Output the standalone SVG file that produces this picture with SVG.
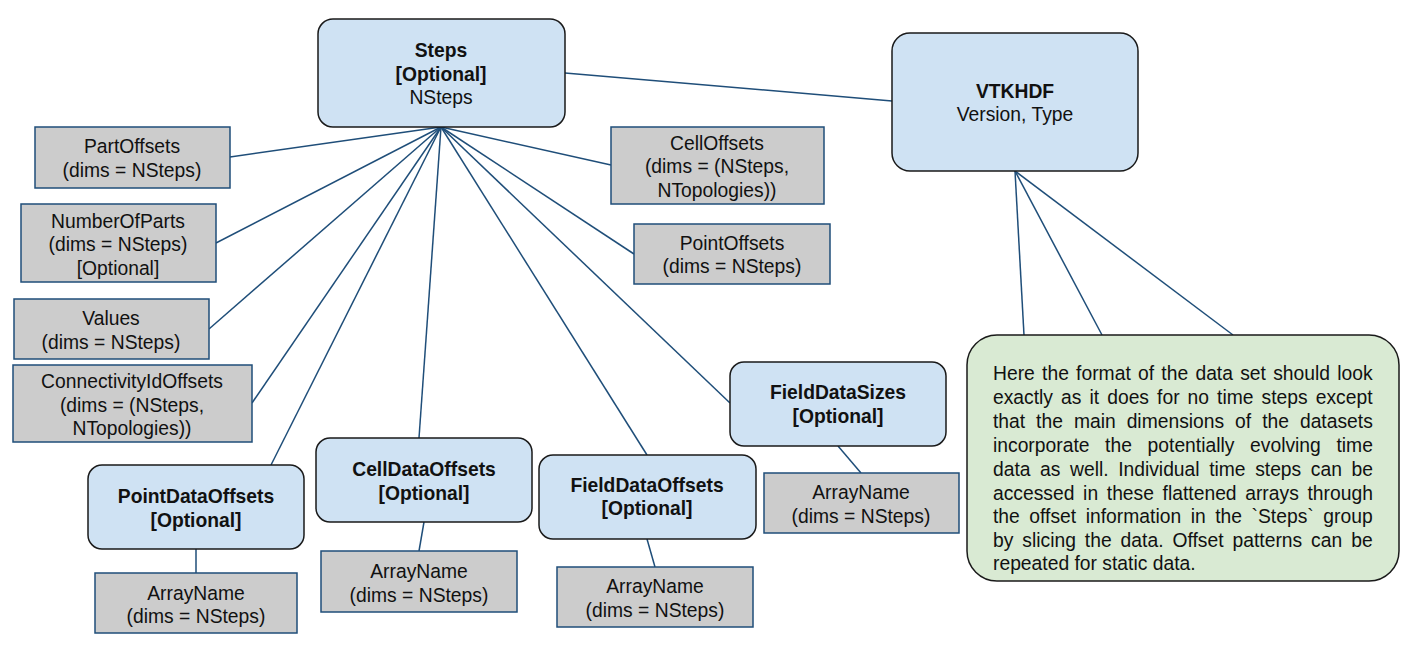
<svg xmlns="http://www.w3.org/2000/svg" width="1403" height="650" viewBox="0 0 1403 650">
<style>
text{font-family:"Liberation Sans",Arial,sans-serif;font-size:19.3px;fill:#111;text-anchor:middle}
.b{font-weight:bold}
.grp{fill:#cfe2f3;stroke:#1a1a1a;stroke-width:1.5}
.arr{fill:#cccccc;stroke:#1f4e79;stroke-width:1.5}
.note{fill:#d9ead3;stroke:#1a1a1a;stroke-width:1.5}
#connectors line{stroke:#1f4e79;stroke-width:1.5}
.n text{text-anchor:start}
</style>
<rect width="1403" height="650" fill="#fff"/>
<g id="connectors">
<line x1="565" y1="73" x2="892" y2="101"/>
<line x1="441" y1="127" x2="230" y2="157"/>
<line x1="441" y1="127" x2="216" y2="243"/>
<line x1="441" y1="127" x2="209" y2="329"/>
<line x1="441" y1="127" x2="252" y2="403"/>
<line x1="441" y1="127" x2="271" y2="465"/>
<line x1="441" y1="127" x2="419" y2="438"/>
<line x1="441" y1="127" x2="647" y2="455"/>
<line x1="441" y1="127" x2="730" y2="403"/>
<line x1="441" y1="127" x2="634" y2="254"/>
<line x1="441" y1="127" x2="611" y2="165"/>
<line x1="1015" y1="171" x2="1024" y2="335"/>
<line x1="1015" y1="171" x2="1102" y2="335"/>
<line x1="1015" y1="171" x2="1233" y2="335"/>
<line x1="196" y1="549" x2="196" y2="573"/>
<line x1="424" y1="522" x2="419" y2="551"/>
<line x1="647" y1="539" x2="655" y2="567"/>
<line x1="838" y1="446" x2="861" y2="473"/>
</g>
<g id="steps"><rect class="grp" x="318" y="19" width="247" height="108" rx="15"/>
<text x="441" y="57" class="b">Steps</text><text x="441" y="81" class="b">[Optional]</text><text x="441" y="104">NSteps</text></g>
<g id="vtkhdf"><rect class="grp" x="892" y="33" width="246" height="138" rx="18"/>
<text x="1015" y="98" class="b">VTKHDF</text><text x="1015" y="121">Version, Type</text></g>
<g id="partoffsets"><rect class="arr" x="35" y="127" width="195" height="61"/>
<text x="132" y="153">PartOffsets</text><text x="132" y="177">(dims = NSteps)</text></g>
<g id="numberofparts"><rect class="arr" x="21" y="204" width="195" height="78"/>
<text x="118" y="228">NumberOfParts</text><text x="118" y="251">(dims = NSteps)</text><text x="118" y="275">[Optional]</text></g>
<g id="values"><rect class="arr" x="14" y="299" width="195" height="60"/>
<text x="111" y="325">Values</text><text x="111" y="349">(dims = NSteps)</text></g>
<g id="connectivityidoffsets"><rect class="arr" x="13" y="365" width="239" height="77"/>
<text x="132" y="388">ConnectivityIdOffsets</text><text x="132" y="412">(dims = (NSteps,</text><text x="132" y="435">NTopologies))</text></g>
<g id="celloffsets"><rect class="arr" x="611" y="127" width="213" height="77"/>
<text x="717" y="150">CellOffsets</text><text x="717" y="173">(dims = (NSteps,</text><text x="717" y="197">NTopologies))</text></g>
<g id="pointoffsets"><rect class="arr" x="634" y="224" width="196" height="60"/>
<text x="732" y="250">PointOffsets</text><text x="732" y="273">(dims = NSteps)</text></g>
<g id="fielddatasizes"><rect class="grp" x="730" y="362" width="216" height="84" rx="14"/>
<text x="838" y="399" class="b">FieldDataSizes</text><text x="838" y="423" class="b">[Optional]</text></g>
<g id="pointdataoffsets"><rect class="grp" x="88" y="465" width="216" height="84" rx="14"/>
<text x="196" y="503" class="b">PointDataOffsets</text><text x="196" y="527" class="b">[Optional]</text></g>
<g id="celldataoffsets"><rect class="grp" x="316" y="438" width="216" height="84" rx="14"/>
<text x="424" y="476" class="b">CellDataOffsets</text><text x="424" y="500" class="b">[Optional]</text></g>
<g id="fielddataoffsets"><rect class="grp" x="539" y="455" width="217" height="84" rx="14"/>
<text x="647" y="492" class="b">FieldDataOffsets</text><text x="647" y="515" class="b">[Optional]</text></g>
<g id="arrayname-pointdata"><rect class="arr" x="95" y="573" width="202" height="60"/>
<text x="196" y="600">ArrayName</text><text x="196" y="623">(dims = NSteps)</text></g>
<g id="arrayname-celldata"><rect class="arr" x="321" y="551" width="196" height="61"/>
<text x="419" y="578">ArrayName</text><text x="419" y="602">(dims = NSteps)</text></g>
<g id="arrayname-fielddataoffsets"><rect class="arr" x="557" y="567" width="196" height="60"/>
<text x="655" y="593">ArrayName</text><text x="655" y="617">(dims = NSteps)</text></g>
<g id="arrayname-fielddatasizes"><rect class="arr" x="764" y="473" width="195" height="60"/>
<text x="861" y="499">ArrayName</text><text x="861" y="523">(dims = NSteps)</text></g>
<g id="note" class="n"><rect class="note" x="967" y="335" width="432" height="246" rx="30"/>
<text x="993" y="380" word-spacing="1.9">Here the format of the data set should look</text>
<text x="993" y="404" word-spacing="2.7">exactly as it does for no time steps except</text>
<text x="993" y="428" word-spacing="5.6">that the main dimensions of the datasets</text>
<text x="993" y="452" word-spacing="10.3">incorporate the potentially evolving time</text>
<text x="993" y="476" word-spacing="4.2">data as well. Individual time steps can be</text>
<text x="993" y="500" word-spacing="3.3">accessed in these flattened arrays through</text>
<text x="993" y="523" word-spacing="4.2">the offset information in the `Steps` group</text>
<text x="993" y="547" word-spacing="3.6">by slicing the data. Offset patterns can be</text>
<text x="993" y="570">repeated for static data.</text>
</g>
</svg>
